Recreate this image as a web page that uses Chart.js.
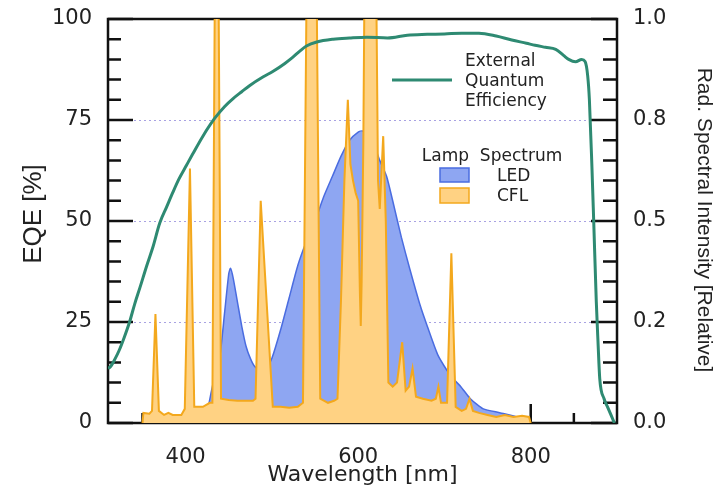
<!DOCTYPE html>
<html>
<head>
<meta charset="utf-8">
<script src="https://cdn.jsdelivr.net/npm/chart.js@4.4.1/dist/chart.umd.min.js"></script>
<style>
  html, body { margin: 0; padding: 0; background: #fff; }
  #wrap { width: 728px; height: 491px; position: relative; }
</style>
</head>
<body>
<div id="wrap"><canvas id="eqeChart"></canvas></div>
<script>
// External quantum efficiency [%] vs wavelength [nm]
const eqeNm  = [310, 313, 318, 323, 329, 335, 341, 347, 355, 362, 370, 378, 385, 392, 401, 408, 420, 434, 445, 455, 465, 474, 490, 501, 515, 524, 532, 540, 552, 571, 590, 610, 634, 657, 680, 700, 720, 740, 760, 778, 795, 805, 817, 829, 838, 844, 852, 859, 863, 866, 868, 871, 873, 876, 878, 880, 885, 889, 897];
const eqeVal = [13.5, 14, 15.8, 18, 21.3, 25, 29.5, 33.5, 39, 43.5, 49.5, 53.5, 57, 60.3, 63.8, 66.5, 71, 75.5, 78.3, 80.3, 82, 83.5, 85.7, 87, 89, 90.5, 92, 93.3, 94.3, 95, 95.3, 95.5, 95.3, 96, 96.2, 96.3, 96.5, 96.5, 95.8, 94.8, 94, 93.5, 93, 92.5, 91, 90, 89.4, 90, 89.5, 86, 80, 63, 50, 30, 20, 11, 6, 4, 0];

// LED lamp spectrum (relative)
const ledNm  = [418, 424, 430, 435, 440, 445, 450, 452, 455, 460, 465, 470, 475, 480, 488, 495, 500, 510, 520, 530, 540, 550, 560, 570, 580, 590, 600, 605, 610, 618, 625, 633, 640, 650, 660, 672, 680, 692, 703, 710, 719, 730, 745, 765, 788, 797];
const ledVal = [0, 0.02, 0.08, 0.13, 0.17, 0.27, 0.37, 0.383, 0.36, 0.30, 0.24, 0.19, 0.16, 0.14, 0.13, 0.14, 0.16, 0.23, 0.31, 0.39, 0.45, 0.50, 0.56, 0.61, 0.66, 0.70, 0.72, 0.723, 0.715, 0.69, 0.65, 0.61, 0.55, 0.46, 0.38, 0.29, 0.24, 0.17, 0.13, 0.11, 0.09, 0.06, 0.035, 0.025, 0.012, 0];

// CFL lamp spectrum (relative)
const cflNm  = [350, 351, 358, 361, 365, 369, 375, 380, 385, 395, 399, 405, 410, 420, 428, 431, 436, 441, 450, 460, 470, 478, 481, 487, 501, 510, 520, 530, 536, 546, 556, 565, 572, 576, 580, 584, 588, 591, 594, 597, 600, 602, 603, 604, 606, 608, 620, 623, 625, 629, 632, 635, 640, 645, 651, 655, 659, 663, 667, 675, 685, 690, 693, 696, 703, 708, 713, 720, 725, 729, 733, 740, 750, 760, 770, 780, 790, 798, 800];
const cflVal = [0, 0.025, 0.023, 0.03, 0.27, 0.03, 0.02, 0.025, 0.02, 0.02, 0.035, 0.63, 0.04, 0.04, 0.05, 0.05, 1.85, 0.06, 0.057, 0.055, 0.055, 0.055, 0.06, 0.55, 0.04, 0.04, 0.038, 0.04, 0.05, 2.5, 0.06, 0.05, 0.055, 0.06, 0.3, 0.6, 0.8, 0.64, 0.6, 0.57, 0.55, 0.32, 0.24, 0.35, 0.7, 1.3, 1.3, 0.6, 0.53, 0.71, 0.5, 0.1, 0.09, 0.1, 0.2, 0.08, 0.09, 0.135, 0.065, 0.06, 0.055, 0.06, 0.09, 0.05, 0.05, 0.42, 0.04, 0.03, 0.035, 0.06, 0.03, 0.025, 0.02, 0.015, 0.02, 0.015, 0.018, 0.015, 0];

// ticks
const xLabelTicks = [400, 600, 800];
const xMinorTicks = [350, 450, 500, 550, 650, 700, 750, 850];
const yMajorTicks = [0, 25, 50, 75, 100];
const yMinorTicks = [5, 10, 15, 20, 30, 35, 40, 45, 55, 60, 65, 70, 80, 85, 90, 95];
const y2TickVals = [0, 0.25, 0.5, 0.75, 1];
const y2TickLabels = ['0.0', '0.2', '0.5', '0.8', '1.0'];
const gridLevels = [25, 50, 75];

const toPoints = (xs, ys) => xs.map((v, i) => ({ x: v, y: ys[i] }));

const TEAL = '#2e8a72';
const tickFont = { family: 'DejaVu Sans', size: 21 };

const frameTicks = {
    id: 'frameTicks',
    beforeDatasetsDraw(chart) {
        const { ctx, chartArea: a, scales } = chart;
        const x = scales.x, y = scales.y;
        ctx.save();
        // dotted guide lines
        ctx.strokeStyle = '#a8a2e2';
        ctx.lineWidth = 1;
        ctx.setLineDash([2, 3]);
        gridLevels.forEach(v => {
            const py = Math.round(y.getPixelForValue(v)) + 0.5;
            ctx.beginPath();
            ctx.moveTo(a.left + 26, py);
            ctx.lineTo(a.right - 26, py);
            ctx.stroke();
        });
        ctx.setLineDash([]);
        // frame
        ctx.strokeStyle = '#111';
        ctx.lineWidth = 2.5;
        ctx.strokeRect(a.left, a.top, a.right - a.left, a.bottom - a.top);
        // y ticks, both sides, inward
        const yTick = (v, lenL, lenR) => {
            const py = y.getPixelForValue(v);
            ctx.beginPath();
            ctx.moveTo(a.left, py); ctx.lineTo(a.left + lenL, py);
            ctx.moveTo(a.right, py); ctx.lineTo(a.right - lenR, py);
            ctx.stroke();
        };
        yMajorTicks.forEach(v => yTick(v, 25, 26));
        yMinorTicks.forEach(v => yTick(v, 13, 14));
        // x ticks, inward
        const xTick = (v, len) => {
            const px = x.getPixelForValue(v);
            ctx.beginPath();
            ctx.moveTo(px, a.bottom); ctx.lineTo(px, a.bottom - len);
            ctx.stroke();
        };
        xLabelTicks.forEach(v => xTick(v, 19));
        xMinorTicks.forEach(v => xTick(v, 10));
        ctx.restore();
    },
    afterDatasetsDraw(chart) {
        const { ctx } = chart;
        ctx.save();
        ctx.fillStyle = '#222';
        ctx.textBaseline = 'middle';

        // axis titles on the sides
        ctx.font = '26px "Liberation Sans"';
        ctx.textAlign = 'center';
        ctx.save();
        ctx.translate(34, 214);
        ctx.rotate(-Math.PI / 2);
        ctx.fillText('EQE [%]', 0, 0);
        ctx.restore();

        ctx.font = '21px "Liberation Sans"';
        ctx.save();
        ctx.translate(704, 220);
        ctx.rotate(Math.PI / 2);
        ctx.fillText('Rad. Spectral Intensity [Relative]', 0, 0);
        ctx.restore();

        // EQE legend
        ctx.strokeStyle = TEAL;
        ctx.lineWidth = 3;
        ctx.beginPath();
        ctx.moveTo(392, 80); ctx.lineTo(452, 80);
        ctx.stroke();
        ctx.font = '17px "DejaVu Sans"';
        ctx.textAlign = 'left';
        ctx.fillText('External', 465, 62);
        ctx.fillText('Quantum', 465, 82);
        ctx.fillText('Efficiency', 465, 102);

        // lamp legend
        ctx.textAlign = 'center';
        ctx.fillText('Lamp  Spectrum', 492, 157);
        ctx.lineWidth = 1.5;
        ctx.fillStyle = '#8ea6f2';
        ctx.strokeStyle = '#4a6ce0';
        ctx.fillRect(440, 168, 29, 14);
        ctx.strokeRect(440, 168, 29, 14);
        ctx.fillStyle = '#ffd283';
        ctx.strokeStyle = '#f3a81d';
        ctx.fillRect(440, 188, 29, 15);
        ctx.strokeRect(440, 188, 29, 15);
        ctx.fillStyle = '#222';
        ctx.textAlign = 'left';
        ctx.fillText('LED', 497, 177);
        ctx.fillText('CFL', 497, 197);
        ctx.restore();
    }
};

new Chart(document.getElementById('eqeChart').getContext('2d'), {
    type: 'line',
    data: {
        datasets: [
            {
                label: 'External Quantum Efficiency',
                data: toPoints(eqeNm, eqeVal),
                yAxisID: 'y',
                borderColor: TEAL,
                borderWidth: 3,
                pointRadius: 0,
                fill: false,
                cubicInterpolationMode: 'monotone',
                order: 0
            },
            {
                label: 'CFL',
                data: toPoints(cflNm, cflVal),
                yAxisID: 'y2',
                borderColor: '#f3a81d',
                backgroundColor: '#ffd283',
                borderWidth: 2,
                pointRadius: 0,
                fill: 'origin',
                tension: 0,
                order: 1
            },
            {
                label: 'LED',
                data: toPoints(ledNm, ledVal),
                yAxisID: 'y2',
                borderColor: '#4a6ce0',
                backgroundColor: '#8ea6f2',
                borderWidth: 1.5,
                pointRadius: 0,
                fill: 'origin',
                tension: 0.2,
                order: 2
            }
        ]
    },
    options: {
        responsive: true,
        maintainAspectRatio: false,
        animation: false,
        layout: { padding: { top: 19, left: 0, right: 0, bottom: 0 } },
        plugins: {
            legend: { display: false },
            tooltip: { enabled: false }
        },
        scales: {
            x: {
                type: 'linear',
                min: 310,
                max: 900,
                afterBuildTicks: s => { s.ticks = xLabelTicks.map(v => ({ value: v })); },
                afterFit: s => { s.height = 68; s.paddingLeft = 0; s.paddingRight = 0; },
                grid: { display: false, drawTicks: false },
                border: { display: false },
                ticks: { font: tickFont, color: '#222', padding: 22, maxRotation: 0 },
                title: {
                    display: true,
                    text: 'Wavelength [nm]',
                    font: { family: 'DejaVu Sans', size: 22 },
                    color: '#222',
                    padding: { top: 0, bottom: 3 }
                }
            },
            y: {
                position: 'left',
                min: 0,
                max: 100,
                afterBuildTicks: s => { s.ticks = yMajorTicks.map(v => ({ value: v })); },
                afterFit: s => { s.width = 108; s.paddingTop = 0; s.paddingBottom = 0; },
                grid: { display: false, drawTicks: false },
                border: { display: false },
                ticks: { font: tickFont, color: '#222', padding: 16 }
            },
            y2: {
                position: 'right',
                min: 0,
                max: 1,
                afterBuildTicks: s => { s.ticks = y2TickVals.map(v => ({ value: v })); },
                afterFit: s => { s.width = 111; s.paddingTop = 0; s.paddingBottom = 0; },
                grid: { display: false, drawTicks: false },
                border: { display: false },
                ticks: {
                    font: tickFont,
                    color: '#222',
                    padding: 16,
                    callback: v => y2TickLabels[y2TickVals.indexOf(v)]
                }
            }
        }
    },
    plugins: [frameTicks]
});
</script>
</body>
</html>
